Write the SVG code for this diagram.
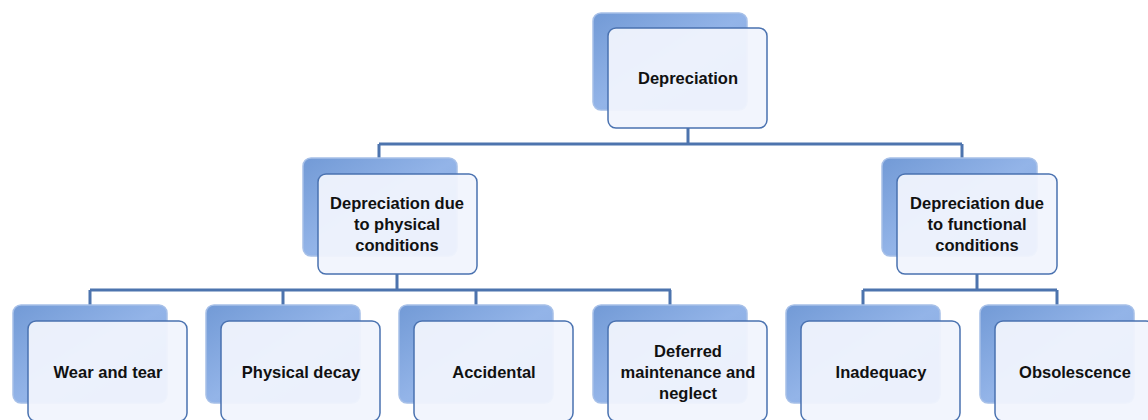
<svg xmlns="http://www.w3.org/2000/svg" width="1148" height="420" viewBox="0 0 1148 420">
<defs>
<linearGradient id="bg" x1="0" y1="0" x2="1" y2="1">
<stop offset="0" stop-color="#729ad6"/>
<stop offset="0.5" stop-color="#93b4e8"/>
<stop offset="1" stop-color="#86a9e0"/>
</linearGradient>
<style>
.back{fill:url(#bg);stroke:#a7c0e8;stroke-width:1.5}
.front{fill:#f1f4fd;fill-opacity:0.94;stroke:#4a72b0;stroke-width:1.5}
.lbl{font-family:"Liberation Sans",Arial,sans-serif;font-size:16.5px;font-weight:bold;fill:#111;text-anchor:middle}
.conn{fill:none;stroke:#4d74ae;stroke-width:3}
</style>
</defs>
<rect width="1148" height="420" fill="#ffffff"/>
<g id="connectors">
<path class="conn" d="M688 128V144M379 144H962M379 144V158M962 144V158"/>
<path class="conn" d="M397 274V290M90 290H671M90 290V305M283 290V305M476 290V305M670 290V305"/>
<path class="conn" d="M977 274V290M863 290H1057M863 290V305M1057 290V305"/>
</g>
<g id="n-depreciation">
<rect class="back" x="593" y="13" width="154" height="97" rx="8"/>
<rect class="front" x="608" y="28" width="159" height="100" rx="8"/>
<text class="lbl" x="688" y="84">Depreciation</text>
</g>
<g id="n-physical">
<rect class="back" x="303" y="158" width="154" height="98" rx="8"/>
<rect class="front" x="318" y="174" width="159" height="100" rx="8"/>
<text class="lbl" x="397" y="209">Depreciation due</text>
<text class="lbl" x="397" y="230">to physical</text>
<text class="lbl" x="397" y="251">conditions</text>
</g>
<g id="n-functional">
<rect class="back" x="882" y="158" width="155" height="98" rx="8"/>
<rect class="front" x="897" y="174" width="160" height="100" rx="8"/>
<text class="lbl" x="977" y="209">Depreciation due</text>
<text class="lbl" x="977" y="230">to functional</text>
<text class="lbl" x="977" y="251">conditions</text>
</g>
<g id="n-wear">
<rect class="back" x="13" y="305" width="154" height="98" rx="8"/>
<rect class="front" x="28" y="321" width="159" height="100" rx="8"/>
<text class="lbl" x="108" y="378">Wear and tear</text>
</g>
<g id="n-decay">
<rect class="back" x="206" y="305" width="154" height="98" rx="8"/>
<rect class="front" x="221" y="321" width="159" height="100" rx="8"/>
<text class="lbl" x="301" y="378">Physical decay</text>
</g>
<g id="n-accidental">
<rect class="back" x="399" y="305" width="154" height="98" rx="8"/>
<rect class="front" x="414" y="321" width="159" height="100" rx="8"/>
<text class="lbl" x="494" y="378">Accidental</text>
</g>
<g id="n-deferred">
<rect class="back" x="593" y="305" width="154" height="98" rx="8"/>
<rect class="front" x="608" y="321" width="159" height="100" rx="8"/>
<text class="lbl" x="688" y="357">Deferred</text>
<text class="lbl" x="688" y="378">maintenance and</text>
<text class="lbl" x="688" y="399">neglect</text>
</g>
<g id="n-inadequacy">
<rect class="back" x="786" y="305" width="154" height="98" rx="8"/>
<rect class="front" x="801" y="321" width="159" height="100" rx="8"/>
<text class="lbl" x="881" y="378">Inadequacy</text>
</g>
<g id="n-obsolescence">
<rect class="back" x="980" y="305" width="154" height="98" rx="8"/>
<rect class="front" x="995" y="321" width="159" height="100" rx="8"/>
<text class="lbl" x="1075" y="378">Obsolescence</text>
</g>
</svg>
